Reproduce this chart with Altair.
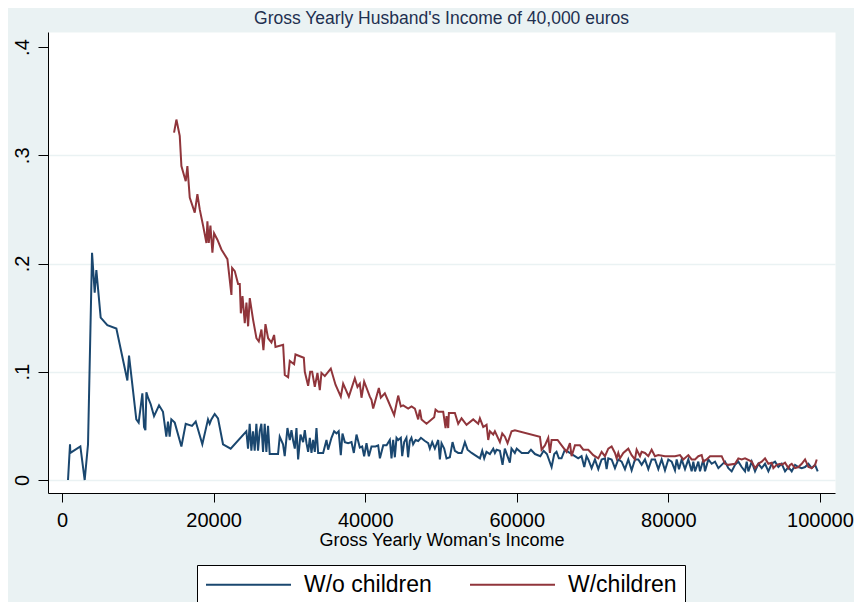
import altair as alt
import pandas as pd

FONT = "Liberation Sans"

# women's gross yearly income (euros) and value for couples without children
blue_x = [
    790, 1055, 1100, 2420, 2990, 3430, 3960, 4310, 4530, 5100,
    5980, 7170, 8620, 8840, 9800, 10110, 10600, 10820, 11000, 11130,
    11350, 11700, 12140, 12800, 13320, 13760, 13980, 14200, 14420, 14870,
    15750, 16320, 17150, 17640, 18510, 19260, 19480, 19700, 20140, 20580,
    21240, 22250, 24320, 24540, 24760, 24980, 25200, 25420, 25640, 25860,
    26080, 26300, 26520, 26740, 26960, 27180, 27400, 28500, 28720, 29160,
    29380, 29740, 30050, 30270, 30500, 30710, 30930, 31150, 31460, 31810,
    32030, 32250, 32470, 32690, 32910, 33130, 33350, 33570, 33790, 34450,
    34890, 35110, 35550, 35900, 36210, 36500, 36780, 37000, 37310, 37750,
    38190, 38500, 38850, 39290, 39600, 39860, 40170, 40480, 40830, 41360,
    41710, 41940, 42380, 42820, 43250, 43470, 43690, 43910, 44130, 44350,
    44700, 44880, 45140, 45440, 45660, 45880, 46100, 46320, 46640, 46990,
    47350, 47880, 48310, 48530, 48840, 49190, 49630, 49850, 50070, 50420,
    50730, 51170, 51520, 51830, 52270, 52710, 53150, 53500, 54040, 54480,
    55140, 55440, 55700, 56000, 56450, 56890, 57110, 57330, 57770, 58120,
    58420, 58770, 59080, 59300, 59740, 59990, 60650, 61510, 61870, 62400,
    63100, 63540, 63970, 64590, 64940, 65240, 65550, 65900, 66340, 66780,
    67220, 67660, 68100, 68540, 68900, 69200,
    69430, 69870, 70310, 70750, 71190, 71630, 71850, 72070, 72510, 72950,
    73390, 73830, 74270, 74710, 75150, 75590, 76030, 76470, 76910, 77350,
    77790, 78230, 78670, 79110, 79550, 79990, 80430, 80870, 81090, 81400,
    81750, 82190, 82630, 83070, 83290, 83510, 83950, 84170, 84610, 84830,
    85270, 85710, 86150, 86590, 87030, 87470, 87910, 88350, 88790, 89230,
    89670, 90110, 90330, 90550, 90990, 91430, 91870, 92310, 92750, 93190,
    93630, 94070, 94510, 94950, 95390, 95830, 96270, 96710, 97150, 97590,
    98030, 98470, 98910, 99350, 99700,
]
blue_y = [
    0, .033, .025, .031, 0, .033, .210, .173, .194, .150,
    .143, .140, .092, .115, .056, .053, .080, .049, .046, .081,
    .076, .070, .059, .069, .063, .040, .054, .040, .056, .053,
    .031, .052, .050, .054, .033, .056, .052, .056, .061, .057,
    .033, .029, .045, .029, .052, .027, .045, .027, .052, .027,
    .045, .052, .026, .052, .026, .050, .024, .024, .040, .033,
    .022, .048, .037, .046, .036, .029, .048, .019, .042, .035,
    .046, .034, .026, .039, .025, .037, .026, .048, .025, .025,
    .037, .028, .039, .045, .043, .045, .023, .043, .035, .034,
    .035, .025, .042, .030, .031, .022, .034, .022, .031, .031,
    .032, .020, .032, .032, .037, .020, .037, .021, .039, .037,
    .039, .022, .035, .039, .021, .036, .039, .033, .037, .036,
    .039, .036, .034, .029, .035, .029, .037, .019, .034, .029,
    .020, .021, .035, .027, .025, .025, .035, .028, .025, .023,
    .020, .027, .020, .026, .024, .029, .025, .028, .027, .014,
    .029, .022, .016, .029, .025, .029, .025, .025, .028, .024,
    .022, .027, .024, .012, .024, .026, .020, .020, .028, .026,
    .024, .022, .020, .022, .012, .022,
    .019, .011, .019, .010, .019, .020, .010, .020, .019, .011,
    .019, .017, .010, .019, .009, .019, .019, .014, .019, .010,
    .019, .019, .010, .019, .009, .019, .017, .009, .019, .010,
    .019, .010, .019, .008, .017, .008, .017, .008, .019, .008,
    .019, .015, .017, .011, .014, .017, .011, .008, .014, .017,
    .012, .008, .017, .008, .017, .008, .015, .011, .015, .008,
    .015, .017, .012, .015, .008, .012, .008, .014, .012, .011,
    .012, .015, .011, .014, .008,
]

# couples with children
red_x = [
    14780, 15090, 15530, 15750, 16320, 16540, 16850, 17510, 17860, 18170,
    18610, 19050, 19180, 19360, 19580, 19840, 20060, 20500, 21030, 21820,
    22350, 22440, 22790, 23230, 23450, 23590, 23810, 24110, 24330, 24550,
    24770, 25210, 25650, 25960, 26310, 26570, 26840, 27190, 27630, 27980,
    28160, 29170, 29390, 29830, 30050, 30620, 30800, 31900, 32030, 32470,
    32740, 33000, 33350, 33700, 34010, 34230, 34670, 35460, 36080, 36780,
    37090, 37840, 38630, 38980, 39290, 39510, 39860, 40610, 40830, 41050,
    41800, 42060, 42590, 43030, 43820, 44350, 44700, 45010, 45670, 46110,
    46550, 46990, 47210, 47430, 48090, 49100, 49280, 49630, 50290, 50600,
    50730, 50950, 51040, 51830, 52270, 52710, 53370, 54250, 54910, 55130,
    55570, 56010, 56230, 56450, 56890, 57110, 57770, 58080, 58430, 58780,
    59310, 59750, 63050, 63270, 63710, 64150, 64370, 64590, 65380, 65910,
    66570, 67010, 67230, 67670, 68330, 68770,
    69430, 70090, 70750, 71190, 71630, 72070, 72510, 72950, 73170, 73390,
    73610, 74050, 74710, 75150, 75590, 75810, 76250, 76470, 76910, 77350,
    77790, 78230, 78670, 79550, 80870, 81530, 81970, 82630, 83070, 83510,
    83950, 84390, 84610, 85050, 85490, 86150, 86590, 87030, 87470, 87910,
    88790, 89230, 89670, 90110, 90990, 91430, 91870, 92310, 92750, 93190,
    93630, 93850, 94290, 94730, 94950, 95390, 95830, 96050, 96270, 96710,
    97150, 97590, 98030, 98470, 98910, 99350, 99570,
]
red_y = [
    .321, .333, .318, .290, .276, .290, .261, .247, .264, .250,
    .235, .219, .239, .219, .235, .210, .228, .222, .213, .204,
    .171, .196, .193, .181, .181, .154, .170, .145, .164, .142,
    .168, .148, .131, .128, .139, .120, .144, .131, .127, .134,
    .123, .125, .097, .095, .110, .107, .116, .113, .100, .087,
    .100, .100, .086, .099, .083, .099, .096, .103, .088, .077,
    .089, .077, .094, .086, .089, .076, .091, .077, .074, .066,
    .085, .076, .080, .073, .060, .078, .068, .069, .066, .068,
    .066, .056, .065, .056, .052, .058, .065, .063, .063, .048,
    .059, .048, .062, .062, .052, .057, .051, .056, .052, .057,
    .049, .051, .037, .045, .042, .045, .035, .043, .040, .034,
    .045, .046, .040, .028, .032, .039, .025, .037, .037, .032,
    .026, .034, .022, .032, .032, .028,
    .028, .023, .020, .026, .022, .029, .031, .025, .020, .025,
    .020, .025, .029, .023, .019, .028, .022, .026, .025, .022,
    .028, .022, .023, .022, .022, .023, .019, .023, .019, .019,
    .022, .023, .017, .019, .022, .022, .022, .022, .015, .014,
    .015, .020, .019, .020, .017, .011, .015, .017, .020, .015,
    .016, .011, .014, .015, .014, .016, .011, .014, .015, .011,
    .012, .015, .019, .012, .011, .014, .019,
]

series = ["W/o children", "W/children"]
colors = ["#1A476F", "#90353B"]
x_ticks = [0, 20000, 40000, 60000, 80000, 100000]
y_ticks = [0, 0.1, 0.2, 0.3, 0.4]

df = pd.concat([
    pd.DataFrame({"income": blue_x, "value": blue_y, "group": series[0]}),
    pd.DataFrame({"income": red_x, "value": red_y, "group": series[1]}),
])

chart = (
    alt.Chart(df)
    .mark_line(strokeWidth=2, clip=True)
    .encode(
        x=alt.X("income:Q")
        .scale(domain=[-1850, 101980], nice=False, zero=False)
        .axis(
            values=x_ticks, format="d", grid=False,
            title="Gross Yearly Woman's Income", titleFont=FONT, titleFontSize=18,
            titleFontWeight="normal", titleColor="black", titlePadding=1,
            labelFont=FONT, labelFontSize=20, labelColor="black", labelPadding=8,
            domainColor="black", tickColor="black", tickSize=9,
        ),
        y=alt.Y("value:Q")
        .scale(domain=[-0.012, 0.4139], nice=False, zero=False)
        .axis(
            values=y_ticks, title=None,
            labelExpr="datum.value == 0 ? '0' : replace(format(datum.value, '.1f'), '0.', '.')",
            labelAngle=270, labelAlign="center", labelBaseline="bottom",
            labelFont=FONT, labelFontSize=20, labelColor="black", labelPadding=6,
            domainColor="black", tickColor="black", tickSize=10,
            gridColor="#EAF2F3", gridWidth=1.5,
            gridOpacity={"condition": {"test": "datum.value > 0.35", "value": 0}, "value": 1},
        ),
        color=alt.Color("group:N")
        .scale(domain=series, range=colors)
        .legend(
            title=None, orient="none", legendX=149, legendY=533,
            direction="horizontal", symbolType="stroke", symbolSize=7225,
            symbolStrokeWidth=2, clipHeight=23, labelFont=FONT, labelFontSize=23,
            labelColor="black", labelOffset=12, columnPadding=37, padding=8,
            fillColor="white", strokeColor="black",
        ),
    )
    .properties(
        width=787,
        height=461,
        title=alt.TitleParams(
            "Gross Yearly Husband's Income of 40,000 euros",
            font=FONT, fontSize=17.5, fontWeight="normal", color="#1E3050",
            anchor="middle", offset=5,
        ),
        padding={"left": 40, "top": 24, "right": 19, "bottom": 109},
        autosize=alt.AutoSizeParams(type="none"),
        background="#EAF2F3",
    )
    .configure_view(fill="white", stroke="transparent")
)

chart.save("out.html", embed_options={"renderer": "svg", "actions": False})
